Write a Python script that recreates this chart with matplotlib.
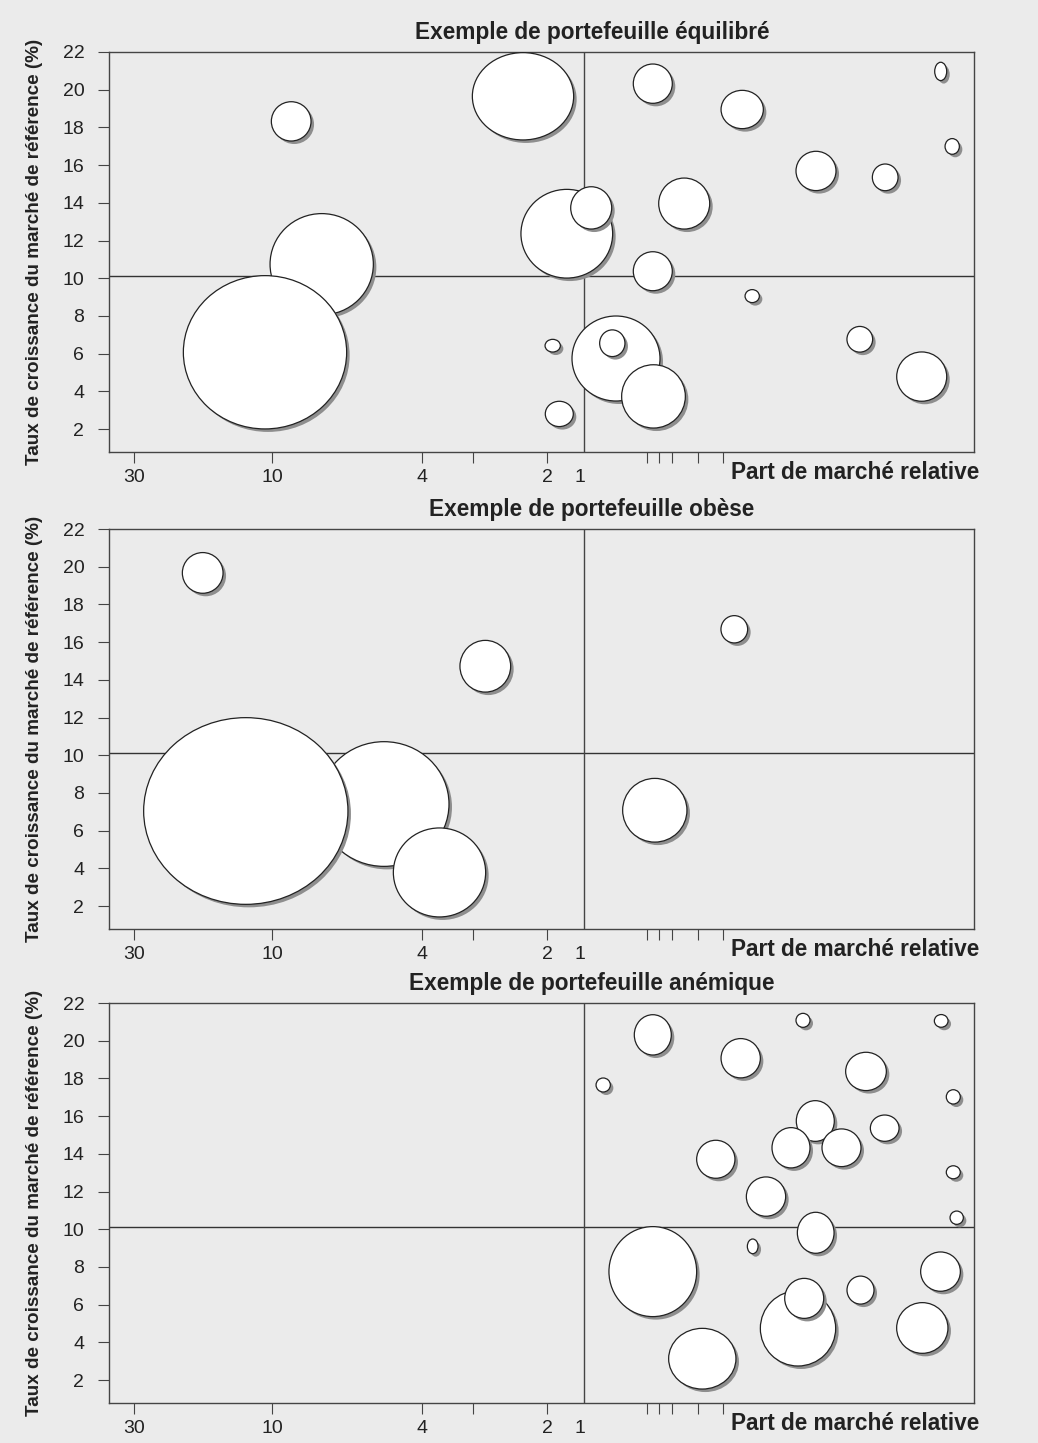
import matplotlib
matplotlib.use("Agg")
import matplotlib.pyplot as plt
from matplotlib.patches import Ellipse
from matplotlib.transforms import ScaledTranslation

plt.rcParams['font.family'] = ['Liberation Sans', 'DejaVu Sans']

FOND = '#ebebeb'
ENCRE = '#222222'
OMBRE = '#8e8e8e'

# Axe horizontal : échelle non régulière de la part de marché relative,
# les valeurs sont des positions le long de cet axe (même unité que les bulles)
x_min, x_max = 109.3, 974.0
graduations_pos = [134, 272, 422, 473, 547, 580]
graduations_lab = ['30', '10', '4', '', '2', '1']
graduations_mineures = [646.7, 658.7, 672.3, 697.7, 722.7]
separation_part = 583.7      # part de marché relative = 1
croissance_moyenne = 10.1    # séparation horizontale
y_min, y_max = 0.78, 22
y_graduations = list(range(2, 23, 2))

titres = ["Exemple de portefeuille équilibré",
          "Exemple de portefeuille obèse",
          "Exemple de portefeuille anémique"]

# Portefeuille équilibré : position, croissance, largeur et hauteur de bulle (px)
eq_part = [321.7, 265.0, 291.2, 523.0, 566.8, 591.2, 652.8, 652.8, 552.7, 559.3, 616.0,
           612.3, 653.5, 742.2, 940.7, 952.2, 816.0, 885.2, 684.2, 752.2, 859.8, 921.7]
eq_croiss = [10.74, 6.07, 18.32, 19.65, 12.36, 13.73, 20.32, 10.37, 6.42, 2.80, 5.74,
             6.55, 3.73, 18.95, 20.97, 16.99, 15.69, 15.35, 13.96, 9.05, 6.76, 4.78]
eq_larg = [103.3, 163.3, 39.7, 101.3, 91.7, 41.0, 39.0, 39.0, 15.3, 28.0, 88.0,
           25.3, 63.7, 42.3, 12.0, 14.3, 40.0, 25.7, 51.0, 14.3, 25.7, 50.0]
eq_haut = [101.3, 153.3, 39.3, 87.3, 88.7, 42.3, 39.3, 39.0, 12.7, 25.3, 85.0,
           26.7, 63.3, 38.3, 18.3, 15.7, 39.3, 26.7, 51.0, 13.0, 25.7, 49.3]

# Portefeuille obèse
ob_part = [384.0, 245.8, 439.5, 202.7, 485.3, 734.3, 654.8]
ob_croiss = [7.41, 7.04, 3.78, 19.67, 14.72, 16.68, 7.08]
ob_larg = [130.0, 204.3, 92.3, 40.7, 50.7, 26.7, 64.3]
ob_haut = [124.7, 186.7, 89.0, 40.7, 51.7, 27.3, 63.7]

# Portefeuille anémique
an_part = [652.8, 803.0, 941.2, 740.7, 603.2, 866.0, 953.3, 815.3, 884.7, 791.0, 841.5, 715.8,
           953.3, 766.0, 956.7, 815.7, 752.7, 652.8, 940.5, 860.5, 798.0, 804.2, 922.3, 702.3]
an_croiss = [20.31, 21.08, 21.05, 19.07, 17.65, 18.37, 17.02, 15.74, 15.36, 14.32, 14.32, 13.71,
             13.02, 11.73, 10.61, 9.81, 9.09, 7.75, 7.75, 6.77, 4.74, 6.33, 4.76, 3.13]
an_larg = [37.0, 14.0, 13.7, 39.3, 14.3, 40.7, 14.0, 38.0, 28.7, 38.0, 39.0, 38.3,
           14.0, 39.3, 13.3, 36.7, 10.7, 87.7, 39.7, 27.0, 75.3, 39.0, 51.3, 67.3]
an_haut = [40.3, 14.0, 12.7, 39.3, 14.0, 38.3, 14.3, 40.7, 26.3, 40.3, 37.7, 38.0,
           13.0, 39.3, 13.3, 41.0, 14.7, 90.0, 39.3, 28.0, 75.3, 40.0, 50.7, 60.7]

portefeuilles = [(eq_part, eq_croiss, eq_larg, eq_haut),
                 (ob_part, ob_croiss, ob_larg, ob_haut),
                 (an_part, an_croiss, an_larg, an_haut)]

W, H = 1038, 1443
fig = plt.figure(figsize=(W / 100, H / 100), dpi=100, facecolor=FOND)

hauts = [52, 529, 1003]   # haut de chaque cadre (px)
haut_cadre = 400

for k, top in enumerate(hauts):
    ax = fig.add_axes([x_min / W, 1 - (top + haut_cadre) / H,
                       (x_max - x_min) / W, haut_cadre / H])
    ax.set_facecolor(FOND)
    ax.set_xlim(x_min, x_max)
    ax.set_ylim(y_min, y_max)

    px_par_unite = haut_cadre / (y_max - y_min)

    ax.axhline(croissance_moyenne, color='#333333', lw=1.0, zorder=1)
    ax.axvline(separation_part, color='#444444', lw=1.0, zorder=1)

    ombre = ax.transData + ScaledTranslation(3 / 100, -3 / 100, fig.dpi_scale_trans)
    part, croiss, larg, haut = portefeuilles[k]
    for i in range(len(part)):
        z = 3 + 2 * i
        ax.add_patch(Ellipse((part[i], croiss[i]), larg[i], haut[i] / px_par_unite,
                             facecolor=OMBRE, edgecolor='none', transform=ombre, zorder=z))
        ax.add_patch(Ellipse((part[i], croiss[i]), larg[i], haut[i] / px_par_unite,
                             facecolor='white', edgecolor=ENCRE, lw=0.9, zorder=z + 1))

    for s in ax.spines.values():
        s.set_color('#444444')
        s.set_linewidth(1.0)

    ax.set_yticks(y_graduations)
    ax.set_xticks(graduations_pos)
    ax.set_xticklabels(graduations_lab)
    ax.set_xticks(graduations_mineures, minor=True)
    ax.tick_params(axis='both', which='both', direction='out', length=8, width=0.8,
                   color='#444444', labelcolor=ENCRE, labelsize=14)
    ax.tick_params(axis='y', pad=10)
    ax.tick_params(axis='x', pad=4)
    ax.xaxis.get_major_ticks()[-1].tick1line.set_visible(False)

    fig.text(592 / W, 1 - (top - 13) / H, titres[k], ha='center', va='baseline',
             fontsize=16.3, fontweight='bold', color=ENCRE)
    fig.text(731 / W, 1 - (top + 427) / H, "Part de marché relative", ha='left',
             va='baseline', fontsize=16.3, fontweight='bold', color=ENCRE)
    fig.text(35 / W, 1 - (top + haut_cadre / 2) / H,
             "Taux de croissance du marché de référence (%)", rotation=90,
             ha='center', va='center', fontsize=13.6, fontweight='bold', color=ENCRE)

fig.savefig('out.png', dpi=100, facecolor=FOND)
